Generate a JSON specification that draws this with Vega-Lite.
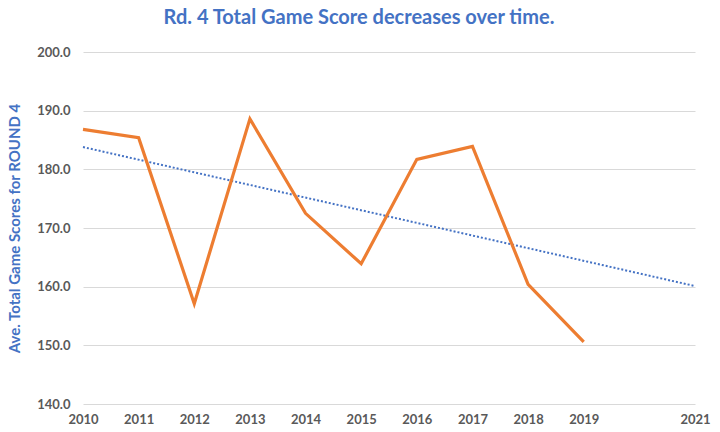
{
  "$schema": "https://vega.github.io/schema/vega-lite/v6.json",
  "width": 612,
  "height": 352,
  "autosize": {"type": "none"},
  "padding": {"left": 83, "top": 52, "right": 25, "bottom": 28},
  "background": "white",
  "title": {
    "text": "Rd. 4 Total Game Score decreases over time.",
    "color": "#4472C4",
    "font": "Lato",
    "fontSize": 20,
    "fontWeight": "bold",
    "anchor": "middle",
    "dx": -30,
    "offset": 18
  },
  "datasets": {
    "scores": [
      {"year": 2010, "score": 186.8},
      {"year": 2011, "score": 185.4},
      {"year": 2012, "score": 157.1},
      {"year": 2013, "score": 188.6},
      {"year": 2014, "score": 172.5},
      {"year": 2015, "score": 163.9},
      {"year": 2016, "score": 181.7},
      {"year": 2017, "score": 183.9},
      {"year": 2018, "score": 160.4},
      {"year": 2019, "score": 150.6}
    ],
    "trend": [
      {"year": 2010, "score": 183.8},
      {"year": 2021, "score": 160.1}
    ]
  },
  "config": {
    "view": {"stroke": null},
    "axis": {"labelFont": "Lato", "titleFont": "Lato"}
  },
  "layer": [
    {
      "data": {"name": "trend"},
      "mark": {"type": "line", "color": "#4472C4", "strokeWidth": 2, "strokeDash": [2, 2]},
      "encoding": {
        "x": {
          "field": "year", "type": "quantitative",
          "scale": {"domain": [2010, 2021], "nice": false},
          "axis": {
            "title": null, "format": "d", "values": [2010,2011,2012,2013,2014,2015,2016,2017,2018,2019,2021],
            "grid": false, "domain": false, "ticks": false, "labelFlush": false, "labelOverlap": false,
            "labelFontSize": 13, "labelFontWeight": "bold", "labelColor": "#595959", "labelPadding": 9
          }
        },
        "y": {
          "field": "score", "type": "quantitative",
          "scale": {"domain": [140, 200], "nice": false, "zero": false},
          "axis": {
            "title": "Ave. Total Game Scores for ROUND 4",
            "titleColor": "#4472C4", "titleFontSize": 15, "titleFontWeight": "bold", "titlePadding": 14,
            "format": ".1f", "values": [140,150,160,170,180,190,200],
            "grid": true, "gridColor": "#D9D9D9", "gridWidth": 1,
            "domain": false, "ticks": false, "labelFlush": false,
            "labelFontSize": 13, "labelFontWeight": "bold", "labelColor": "#595959", "labelPadding": 13
          }
        }
      }
    },
    {
      "data": {"name": "scores"},
      "mark": {"type": "line", "color": "#ED7D31", "strokeWidth": 3.2},
      "encoding": {
        "x": {"field": "year", "type": "quantitative"},
        "y": {"field": "score", "type": "quantitative"}
      }
    }
  ]
}
